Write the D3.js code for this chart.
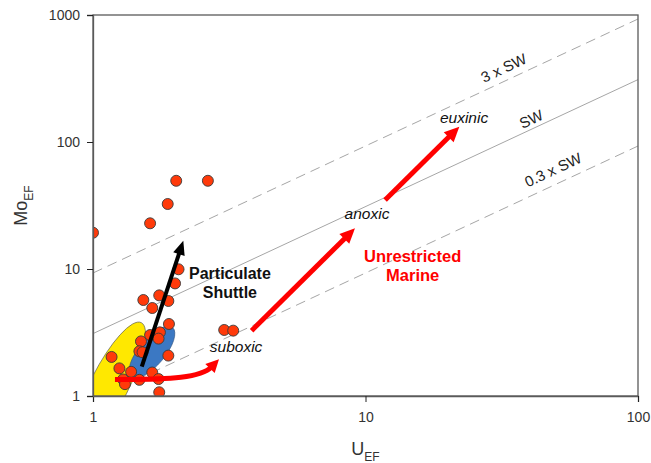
<!DOCTYPE html>
<html>
<head>
<meta charset="utf-8">
<script src="https://cdn.jsdelivr.net/npm/d3@7"></script>
<style>
  html, body { margin: 0; padding: 0; background: #fff; }
  svg { display: block; font-family: "Liberation Sans", Arial, sans-serif; }
</style>
</head>
<body>
<svg id="chart" width="651" height="463"></svg>
<script>
// sample data: U enrichment factor vs Mo enrichment factor
const uEF  = [1.0, 2.02, 2.64, 1.88, 1.62, 2.06, 2.0, 1.75, 1.53, 1.89, 1.65, 1.90, 1.62, 1.76, 1.74, 1.50, 1.48, 1.52, 1.89, 1.17, 1.25, 1.38, 1.65, 1.29, 1.48, 1.74, 1.31, 1.75, 3.03, 3.27];
const moEF = [19.3, 49.5, 49.5, 32.5, 22.9, 9.95, 7.7, 6.2, 5.7, 5.6, 4.93, 3.69, 3.02, 3.17, 2.83, 2.69, 2.25, 2.21, 2.08, 2.03, 1.65, 1.55, 1.53, 1.35, 1.34, 1.36, 1.24, 1.07, 3.31, 3.27];

// seawater Mo/U ratio lines
const swRatios = [3.1, 9.3, 0.93];
const swNames = ['SW', '3 x SW', '0.3 x SW'];
const swDashed = [false, true, true];
const swLabelU = [41.9, 33.6, 51.3];
const xTicks = [1, 10, 100];
const yTicks = [1, 10, 100, 1000];

// arrows [U, Mo] start -> end
const blackArrow = [[1.51, 1.70], [2.145, 16.7]];
const redArrows = [
  [[3.82, 3.27], [9.15, 20.9]],
  [[11.8, 34.9], [22.1, 132]]
];
const curvedArrow = [[1.204, 1.35], [1.95, 1.34], [2.5, 1.40], [2.90, 1.95]];

const labelsItalic = [
  { u: 3.35, mo: 2.22, text: 'suboxic' },
  { u: 10.13, mo: 24.8, text: 'anoxic' },
  { u: 23.0, mo: 141, text: 'euxinic' }
];

const svg = d3.select('#chart');
const margin = { top: 15, right: 13, bottom: 67, left: 93 };
const W = 651, H = 463;

const x = d3.scaleLog().domain([1, 100]).range([margin.left, W - margin.right]);
const y = d3.scaleLog().domain([1, 1000]).range([H - margin.bottom, margin.top]);

svg.append('defs').append('clipPath').attr('id', 'plot-clip')
  .append('rect').attr('x', x(1)).attr('y', y(1000)).attr('width', x(100) - x(1)).attr('height', y(1) - y(1000));

const plot = svg.append('g').attr('clip-path', 'url(#plot-clip)');

// ratio lines
swRatios.forEach((k, i) => {
  plot.append('line')
    .attr('x1', x(1)).attr('y1', y(k * 1))
    .attr('x2', x(100)).attr('y2', y(k * 100))
    .attr('stroke', '#a6a6a6').attr('stroke-width', 1)
    .attr('stroke-dasharray', swDashed[i] ? '10 6' : null);
});

// field ellipses (drawn in pixel space around data-space centres)
plot.append('ellipse')
  .attr('transform', `translate(${x(1.15)},${y(1.22)}) rotate(-63)`)
  .attr('rx', 70).attr('ry', 19)
  .attr('fill', '#ffe800').attr('stroke', '#555').attr('stroke-width', 0.6);

plot.append('ellipse')
  .attr('transform', `translate(${x(1.646)},${y(2.22)}) rotate(-50)`)
  .attr('rx', 32).attr('ry', 13)
  .attr('fill', '#3b78c3').attr('stroke', '#2a4f80').attr('stroke-width', 0.6);

// data points
plot.selectAll('circle.pt').data(uEF.map((u, i) => [u, moEF[i]])).join('circle')
  .attr('class', 'pt')
  .attr('cx', d => x(d[0])).attr('cy', d => y(d[1]))
  .attr('r', 5.5)
  .attr('fill', '#ff3a0a').attr('stroke', '#3a3a3a').attr('stroke-width', 0.9);

function arrowHead(g, tip, ang, color, len, wid) {
  const bx = tip[0] - len * Math.cos(ang), by = tip[1] - len * Math.sin(ang);
  const px = -Math.sin(ang) * wid / 2, py = Math.cos(ang) * wid / 2;
  g.append('path')
    .attr('d', `M${tip[0]},${tip[1]}L${bx + px},${by + py}L${bx - px},${by - py}Z`)
    .attr('fill', color);
}

function straightArrow(g, a, color, w, len, wid) {
  const p0 = [x(a[0][0]), y(a[0][1])], p1 = [x(a[1][0]), y(a[1][1])];
  const ang = Math.atan2(p1[1] - p0[1], p1[0] - p0[0]);
  const ex = p1[0] - (len - 2) * Math.cos(ang), ey = p1[1] - (len - 2) * Math.sin(ang);
  g.append('line').attr('x1', p0[0]).attr('y1', p0[1]).attr('x2', ex).attr('y2', ey)
    .attr('stroke', color).attr('stroke-width', w);
  arrowHead(g, p1, ang, color, len, wid);
}

// curved red arrow
const cp = curvedArrow.map(d => [x(d[0]), y(d[1])]);
const cAng = Math.atan2(cp[3][1] - cp[2][1], cp[3][0] - cp[2][0]);
const cEnd = [cp[3][0] - 11 * Math.cos(cAng), cp[3][1] - 11 * Math.sin(cAng)];
plot.append('path')
  .attr('d', `M${cp[0]}C${cp[1]} ${cp[2]} ${cEnd}`)
  .attr('fill', 'none').attr('stroke', '#ff0000').attr('stroke-width', 5);
arrowHead(plot, cp[3], cAng, '#ff0000', 13, 13);

straightArrow(plot, blackArrow, '#000', 4, 14, 12);
redArrows.forEach(a => straightArrow(plot, a, '#ff0000', 5, 15, 14));

// axes box
const axisColor = '#5a5a5a';
svg.append('rect').attr('x', x(1)).attr('y', y(1000))
  .attr('width', x(100) - x(1)).attr('height', y(1) - y(1000))
  .attr('fill', 'none').attr('stroke', axisColor).attr('stroke-width', 1.3);

const xAxis = svg.append('g').attr('transform', `translate(0,${y(1)})`)
  .call(d3.axisBottom(x).tickValues(xTicks).tickFormat(d3.format('d')).tickSize(6).tickPadding(10));
const yAxis = svg.append('g').attr('transform', `translate(${x(1)},0)`)
  .call(d3.axisLeft(y).tickValues(yTicks).tickFormat(d3.format('d')).tickSize(6).tickPadding(7));
[xAxis, yAxis].forEach(a => {
  a.select('.domain').attr('stroke', axisColor).attr('stroke-width', 1.3);
  a.selectAll('line').attr('stroke', '#222');
  a.selectAll('text').attr('fill', '#333').style('font-size', '14px').style('font-family', '"Liberation Sans", Arial, sans-serif');
});

// axis titles
const xt = svg.append('text').attr('x', x(10)).attr('y', 455).attr('text-anchor', 'middle')
  .attr('fill', '#333').style('font-size', '18px');
xt.append('tspan').text('U');
xt.append('tspan').attr('dy', 6).style('font-size', '12px').text('EF');

const yt = svg.append('text').attr('transform', `translate(27,${(y(1) + y(1000)) / 2}) rotate(-90)`)
  .attr('text-anchor', 'middle').attr('fill', '#333').style('font-size', '18px');
yt.append('tspan').text('Mo');
yt.append('tspan').attr('dy', 6).style('font-size', '12px').text('EF');

// ratio line labels
const slopeDeg = Math.atan2(y(10) - y(1), x(10) - x(1)) * 180 / Math.PI;
const swLabelOffset = [-4, -7, -9];
swRatios.forEach((k, i) => {
  const u = swLabelU[i];
  svg.append('text')
    .attr('transform', `translate(${x(u)},${y(k * u)}) rotate(${slopeDeg}) translate(0,${swLabelOffset[i]})`)
    .attr('text-anchor', 'middle').attr('fill', '#222').style('font-size', '15px')
    .text(swNames[i]);
});

// italic redox labels
labelsItalic.forEach(l => {
  svg.append('text').attr('x', x(l.u)).attr('y', y(l.mo)).attr('text-anchor', 'middle')
    .attr('fill', '#111').style('font-size', '15.5px').style('font-style', 'italic')
    .text(l.text);
});

// bold annotations
const ps = svg.append('text').attr('text-anchor', 'middle').attr('fill', '#111')
  .style('font-size', '16px').style('font-weight', 'bold');
ps.append('tspan').attr('x', x(3.18)).attr('y', y(8.34)).text('Particulate');
ps.append('tspan').attr('x', x(3.18)).attr('y', y(5.91)).text('Shuttle');

const um = svg.append('text').attr('text-anchor', 'middle').attr('fill', '#ff0000')
  .style('font-size', '16.5px').style('font-weight', 'bold');
um.append('tspan').attr('x', x(14.9)).attr('y', y(11.35)).text('Unrestricted');
um.append('tspan').attr('x', x(14.9)).attr('y', y(8.05)).text('Marine');
</script>
</body>
</html>
